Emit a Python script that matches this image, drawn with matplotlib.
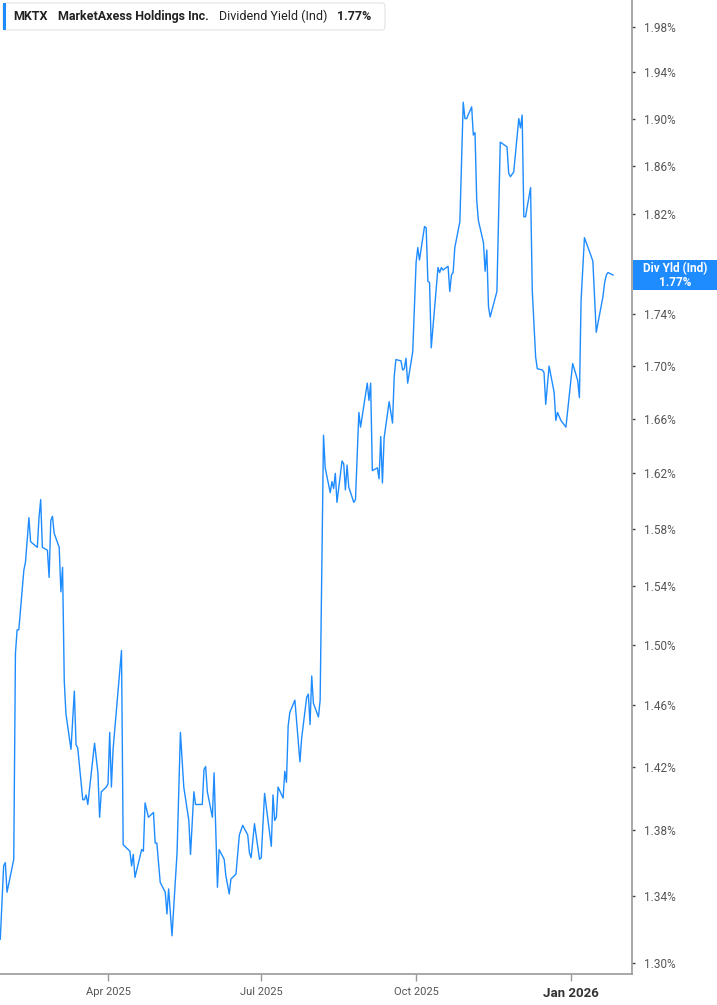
import matplotlib
matplotlib.use('Agg')
import matplotlib.pyplot as plt
from matplotlib.patches import FancyBboxPatch, Rectangle
from matplotlib.ticker import FixedLocator, NullLocator
import pandas as pd

# MKTX dividend yield (indicated), %
dates = [
    "2025-01-27", "2025-01-29", "2025-01-30", "2025-01-31", "2025-02-04", "2025-02-05",
    "2025-02-06", "2025-02-07", "2025-02-10", "2025-02-11", "2025-02-13", "2025-02-14",
    "2025-02-18", "2025-02-19", "2025-02-20", "2025-02-21", "2025-02-24", "2025-02-25",
    "2025-02-26", "2025-02-27", "2025-02-28", "2025-03-03", "2025-03-04", "2025-03-05",
    "2025-03-06", "2025-03-07", "2025-03-10", "2025-03-11", "2025-03-12", "2025-03-13",
    "2025-03-14", "2025-03-17", "2025-03-18", "2025-03-19", "2025-03-20", "2025-03-24",
    "2025-03-26", "2025-03-27", "2025-03-28", "2025-03-31", "2025-04-01", "2025-04-02",
    "2025-04-03", "2025-04-04", "2025-04-09", "2025-04-10", "2025-04-14", "2025-04-15",
    "2025-04-16", "2025-04-17", "2025-04-21", "2025-04-22", "2025-04-23", "2025-04-25",
    "2025-04-28", "2025-04-29", "2025-04-30", "2025-05-02", "2025-05-05", "2025-05-06",
    "2025-05-07", "2025-05-09", "2025-05-12", "2025-05-14", "2025-05-16", "2025-05-19",
    "2025-05-20", "2025-05-22", "2025-05-23", "2025-05-27", "2025-05-28", "2025-05-29",
    "2025-05-30", "2025-06-02", "2025-06-03", "2025-06-05", "2025-06-06", "2025-06-09",
    "2025-06-10", "2025-06-12", "2025-06-13", "2025-06-16", "2025-06-18", "2025-06-20",
    "2025-06-23", "2025-06-24", "2025-06-25", "2025-06-27", "2025-06-30", "2025-07-01",
    "2025-07-03", "2025-07-07", "2025-07-08", "2025-07-09", "2025-07-10", "2025-07-11",
    "2025-07-14", "2025-07-15", "2025-07-16", "2025-07-17", "2025-07-18", "2025-07-21",
    "2025-07-24", "2025-07-25", "2025-07-28", "2025-07-29", "2025-07-30", "2025-07-31",
    "2025-08-01", "2025-08-04", "2025-08-05", "2025-08-07", "2025-08-08", "2025-08-11",
    "2025-08-12", "2025-08-13", "2025-08-14", "2025-08-15", "2025-08-18", "2025-08-19",
    "2025-08-20", "2025-08-21", "2025-08-22", "2025-08-25", "2025-08-26", "2025-08-28",
    "2025-08-29", "2025-09-02", "2025-09-03", "2025-09-04", "2025-09-05", "2025-09-08",
    "2025-09-09", "2025-09-10", "2025-09-11", "2025-09-12", "2025-09-15", "2025-09-17",
    "2025-09-18", "2025-09-19", "2025-09-22", "2025-09-23", "2025-09-24", "2025-09-25",
    "2025-09-26", "2025-09-29", "2025-10-01", "2025-10-02", "2025-10-03", "2025-10-06",
    "2025-10-07", "2025-10-08", "2025-10-09", "2025-10-10", "2025-10-14", "2025-10-15",
    "2025-10-16", "2025-10-17", "2025-10-20", "2025-10-21", "2025-10-22", "2025-10-23",
    "2025-10-24", "2025-10-27", "2025-10-29", "2025-10-30", "2025-10-31", "2025-11-03",
    "2025-11-04", "2025-11-05", "2025-11-06", "2025-11-07", "2025-11-10", "2025-11-11",
    "2025-11-12", "2025-11-13", "2025-11-14", "2025-11-18", "2025-11-20", "2025-11-21",
    "2025-11-24", "2025-11-25", "2025-11-26", "2025-11-28", "2025-12-01", "2025-12-02",
    "2025-12-03", "2025-12-04", "2025-12-05", "2025-12-08", "2025-12-09", "2025-12-11",
    "2025-12-12", "2025-12-15", "2025-12-16", "2025-12-17", "2025-12-19", "2025-12-22",
    "2025-12-23", "2025-12-24", "2025-12-26", "2025-12-29", "2026-01-02", "2026-01-05",
    "2026-01-06", "2026-01-07", "2026-01-09", "2026-01-13", "2026-01-14", "2026-01-16",
    "2026-01-20", "2026-01-21", "2026-01-22", "2026-01-23", "2026-01-26",
]
yield_pct = [
    1.314, 1.358, 1.360, 1.342, 1.362, 1.494, 1.510, 1.510, 1.551, 1.557, 1.588, 1.571,
    1.567, 1.588, 1.601, 1.567, 1.565, 1.546, 1.586, 1.589, 1.577, 1.567, 1.536, 1.553,
    1.476, 1.454, 1.431, 1.450, 1.469, 1.434, 1.432, 1.399, 1.399, 1.402, 1.396, 1.435,
    1.416, 1.388, 1.404, 1.407, 1.409, 1.442, 1.407, 1.431, 1.496, 1.371, 1.367, 1.358,
    1.365, 1.351, 1.368, 1.367, 1.397, 1.388, 1.391, 1.372, 1.372, 1.348, 1.342, 1.329,
    1.344, 1.316, 1.366, 1.442, 1.407, 1.386, 1.365, 1.404, 1.396, 1.396, 1.418, 1.420,
    1.404, 1.388, 1.416, 1.345, 1.368, 1.362, 1.352, 1.341, 1.350, 1.353, 1.377, 1.383,
    1.377, 1.366, 1.363, 1.384, 1.362, 1.363, 1.403, 1.370, 1.402, 1.386, 1.388, 1.407,
    1.400, 1.417, 1.410, 1.446, 1.455, 1.463, 1.423, 1.438, 1.465, 1.467, 1.447, 1.479,
    1.461, 1.452, 1.463, 1.648, 1.624, 1.606, 1.614, 1.609, 1.620, 1.599, 1.629, 1.627,
    1.608, 1.626, 1.610, 1.599, 1.601, 1.665, 1.654, 1.687, 1.674, 1.687, 1.622, 1.624,
    1.616, 1.647, 1.613, 1.646, 1.673, 1.657, 1.692, 1.705, 1.704, 1.697, 1.698, 1.706,
    1.687, 1.711, 1.781, 1.793, 1.783, 1.810, 1.809, 1.766, 1.765, 1.714, 1.777, 1.773,
    1.777, 1.775, 1.778, 1.758, 1.771, 1.773, 1.793, 1.814, 1.914, 1.900, 1.900, 1.910,
    1.886, 1.888, 1.832, 1.815, 1.797, 1.774, 1.791, 1.746, 1.738, 1.758, 1.880, 1.879,
    1.876, 1.854, 1.851, 1.855, 1.900, 1.892, 1.903, 1.818, 1.818, 1.842, 1.759, 1.707,
    1.698, 1.697, 1.695, 1.671, 1.700, 1.680, 1.659, 1.665, 1.659, 1.654, 1.702, 1.689,
    1.676, 1.751, 1.801, 1.786, 1.782, 1.726, 1.754, 1.765, 1.771, 1.773, 1.771,
]
y_ticks = [1.30, 1.34, 1.38, 1.42, 1.46, 1.50, 1.54, 1.58, 1.62, 1.66, 1.70, 1.74,
           1.82, 1.86, 1.90, 1.94, 1.98]
x_ticks = ["2025-04-01", "2025-07-01", "2025-10-01", "2026-01-01"]
x_tick_labels = ["Apr 2025", "Jul 2025", "Oct 2025", "Jan 2026"]
last_value = "1.77%"

LINE = "#1E8CFF"
GREY = "#555555"
AXIS = "#9a9a9a"
FONT = ["Roboto", "DejaVu Sans"]

x = pd.to_datetime(dates)

fig = plt.figure(figsize=(7.17, 10.05), dpi=100)
ax = fig.add_axes([0, 31 / 1005, 632 / 717, 974 / 1005])

ax.plot(x, yield_pct, color=LINE, lw=1.0)

ax.set_yscale("log")
ax.set_ylim(1.2936, 2.004)
ax.set_xlim(pd.Timestamp("2025-01-26 20:00"), pd.Timestamp("2026-02-06 06:00"))

# value axis on the right
ax.yaxis.tick_right()
ax.yaxis.set_major_locator(FixedLocator(y_ticks))
ax.yaxis.set_minor_locator(NullLocator())
ax.set_yticklabels([f"{v:.2f}%" for v in y_ticks])
ax.tick_params(axis="y", which="major", length=2.5, width=1, color="#444444",
               labelcolor=GREY, labelsize=8.5, pad=6)

ax.set_xticks(pd.to_datetime(x_ticks))
ax.set_xticklabels(x_tick_labels)
ax.tick_params(axis="x", length=5, width=1, color=AXIS, labelcolor=GREY,
               labelsize=8, pad=4)
for lbl in ax.get_xticklabels():
    lbl.set_family(FONT)
    if lbl.get_text() == "Jan 2026":
        lbl.set_fontweight("bold")
        lbl.set_color("#333333")
        lbl.set_fontsize(9.5)
for lbl in ax.get_yticklabels():
    lbl.set_family(FONT)

for side in ["top", "left"]:
    ax.spines[side].set_visible(False)
ax.spines["right"].set_color(AXIS)
ax.spines["bottom"].set_color(AXIS)
ax.spines["right"].set_linewidth(1.2)
ax.spines["bottom"].set_linewidth(1.2)

# header box top-left
hdr = FancyBboxPatch((3 / 717, 1 - 30 / 1005), 382 / 717, 27 / 1005,
                     boxstyle="round,pad=0,rounding_size=0.004",
                     transform=fig.transFigure, facecolor="white",
                     edgecolor="#e3e3e3", lw=0.8, zorder=5)
fig.patches.append(hdr)
fig.patches.append(Rectangle((3 / 717, 1 - 30 / 1005), 3 / 717, 27 / 1005,
                             transform=fig.transFigure, facecolor=LINE,
                             edgecolor="none", zorder=6))
ty = 1 - 16.5 / 1005
fig.text(13 / 717, ty, "MKTX", fontsize=9, fontweight="bold", color="#222222",
         va="center", family=FONT, zorder=7)
fig.text(58 / 717, ty, "MarketAxess Holdings Inc.", fontsize=9, fontweight="bold",
         color="#222222", va="center", family=FONT, zorder=7)
fig.text(219 / 717, ty, "Dividend Yield (Ind)", fontsize=9, color="#222222",
         va="center", family=FONT, zorder=7)
fig.text(337 / 717, ty, last_value, fontsize=9, fontweight="bold", color="#222222",
         va="center", family=FONT, zorder=7)

# last value tag on the right axis
fig.patches.append(Rectangle((633 / 717, 1 - 290 / 1005), 84 / 717, 30 / 1005,
                             transform=fig.transFigure, facecolor=LINE,
                             edgecolor="none", zorder=6))
fig.text(675 / 717, 1 - 268.5 / 1005, "Div Yld (Ind)", fontsize=8.5, fontweight="bold",
         color="white", ha="center", va="center", family=FONT, zorder=7)
fig.text(675 / 717, 1 - 282 / 1005, last_value, fontsize=8.5, fontweight="bold",
         color="white", ha="center", va="center", family=FONT, zorder=7)

fig.savefig("out.png", dpi=100)
